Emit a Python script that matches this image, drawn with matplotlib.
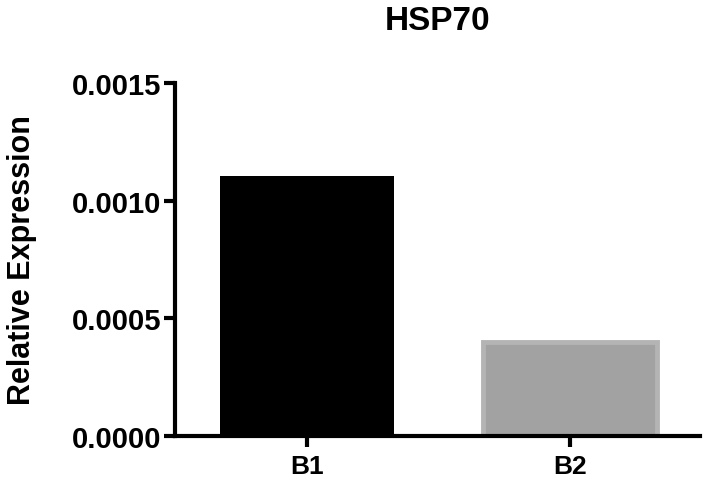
import matplotlib.pyplot as plt

categories = ["B1", "B2"]
values = [0.001104, 0.000400]
yticks = [0.0000, 0.0005, 0.0010, 0.0015]

plt.rcParams['font.family'] = ['Liberation Sans', 'DejaVu Sans']
plt.rcParams['font.weight'] = 'bold'

fig = plt.figure(figsize=(7.08, 4.85), dpi=100)
ax = fig.add_axes([175 / 708, 48 / 485, 525 / 708, 353 / 485])

x = [0, 1]
ax.bar(x[0], values[0], width=0.66, color='black', edgecolor='black', linewidth=0)
ax.bar(x[1], values[1], width=0.66, color='#a2a2a2', edgecolor='#b4b4b4', linewidth=3.5)

ax.set_xlim(-0.502, 1.494)
ax.set_ylim(0, 0.0015)
ax.set_xticks(x)
ax.set_xticklabels(categories)
ax.set_yticks(yticks)
ax.set_yticklabels(["%.4f" % v for v in yticks])

for s in ['top', 'right']:
    ax.spines[s].set_visible(False)
for s in ['left', 'bottom']:
    ax.spines[s].set_linewidth(3)
ax.tick_params(width=3, length=8)
ax.tick_params(axis='y', labelsize=21, pad=2)
ax.tick_params(axis='x', labelsize=19, pad=5)

ax.set_ylabel("Relative Expression", fontsize=22, fontweight='bold', labelpad=25)
ax.set_title("HSP70", fontsize=24, fontweight='bold', pad=39)

fig.savefig("out.png", dpi=100)
